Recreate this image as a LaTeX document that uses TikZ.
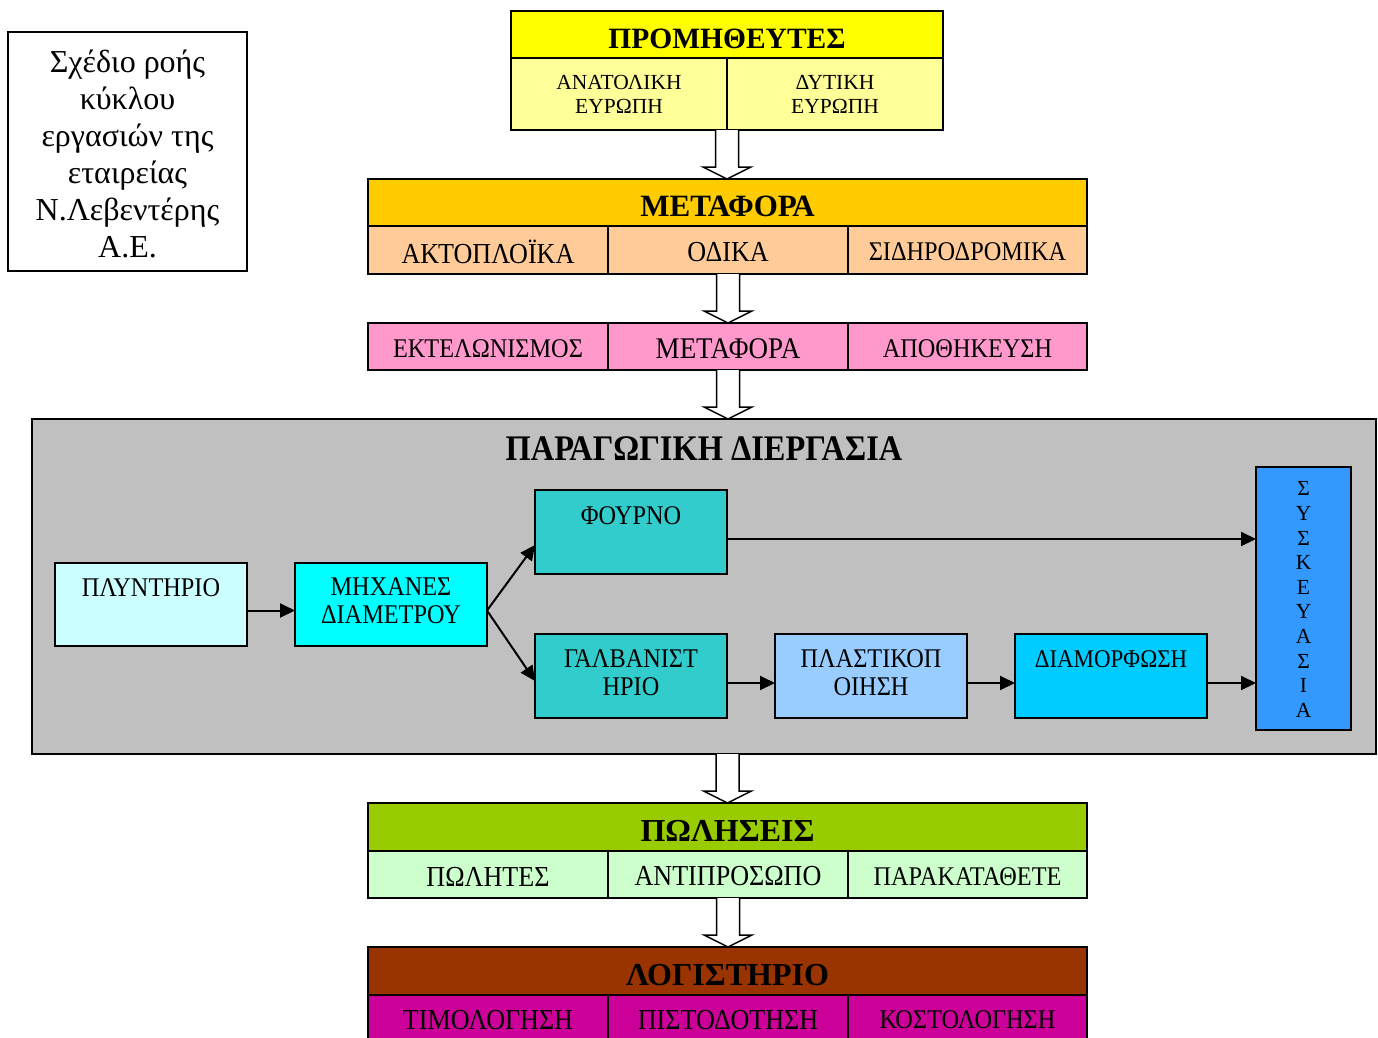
\documentclass[tikz,border=0pt]{standalone}
\usepackage{fontspec}
\setmainfont{Liberation Serif}
\newfontfamily\cnd[FakeStretch=0.9]{Liberation Serif}
\usetikzlibrary{arrows.meta,calc}

\definecolor{cYellow}{HTML}{FFFF00}
\definecolor{cLtYellow}{HTML}{FFFF99}
\definecolor{cGold}{HTML}{FFCC00}
\definecolor{cPeach}{HTML}{FFCC99}
\definecolor{cPink}{HTML}{FF99CC}
\definecolor{cGrey}{HTML}{C0C0C0}
\definecolor{cPaleCyan}{HTML}{CCFFFF}
\definecolor{cCyan}{HTML}{00FFFF}
\definecolor{cTeal}{HTML}{33CCCC}
\definecolor{cSky}{HTML}{99CCFF}
\definecolor{cAzure}{HTML}{00CCFF}
\definecolor{cBlue}{HTML}{3399FF}
\definecolor{cLime}{HTML}{99CC00}
\definecolor{cMint}{HTML}{CCFFCC}
\definecolor{cBrown}{HTML}{993300}
\definecolor{cMagenta}{HTML}{CC0099}

\tikzset{
  box/.style={draw=black, line width=1.8pt, inner sep=0pt, outer sep=0pt,
    anchor=north west, rectangle},
  lbl/.style={inner sep=0pt, align=center},
  hdrtext/.style={lbl, font=\bfseries\fontsize{32}{32}\selectfont},
  celltext/.style={lbl, font=\cnd\fontsize{29}{29}\selectfont},
  smalltext/.style={lbl, font=\fontsize{21.5}{24}\selectfont},
  proctext/.style={lbl, font=\cnd\fontsize{27}{28}\selectfont},
  flow/.style={line width=2pt, -{Triangle[length=15pt,width=14pt]}},
  bigarrow/.style={draw=black, fill=white, line width=1.5pt},
}

% hollow block arrow from the first point straight down to the level of the second
\newcommand\blockarrow[2]{%
  \path let \p1=(#1), \p2=(#2) in
    [bigarrow] (\x1-11.5pt,\y1) -- (\x1-11.5pt,\y2+12pt) -- (\x1-24pt,\y2+12pt)
    -- (\x1,\y2) -- (\x1+24pt,\y2+12pt) -- (\x1+11.5pt,\y2+12pt)
    -- (\x1+11.5pt,\y1);%
}

\begin{document}
\begin{tikzpicture}[x=1pt,y=-1pt]
\useasboundingbox (0,0) rectangle (1378,1037);

% caption box
\node[box, minimum width=239pt, minimum height=239pt] (cap) at (8,32) {};
\node[lbl, font=\fontsize{32}{37}\selectfont] (captext) at ($(cap.center)+(0,2)$)
  {Σχέδιο ροής\\κύκλου\\εργασιών της\\εταιρείας\\Ν.Λεβεντέρης\\Α.Ε.};

% suppliers
\node[box, fill=cYellow, minimum width=432pt, minimum height=47pt] (promH) at (511,11) {};
\node[hdrtext, font=\bfseries\fontsize{29.5}{29.5}\selectfont] at ($(promH.center)+(0,4)$) {ΠΡΟΜΗΘΕΥΤΕΣ};
\node[box, fill=cLtYellow, minimum width=216pt, minimum height=72pt] (promA) at (511,58) {};
\node[box, fill=cLtYellow, minimum width=216pt, minimum height=72pt] (promB) at (727,58) {};
\node[smalltext] at ($(promA.north)+(0,36)$) {ΑΝΑΤΟΛΙΚΗ\\ΕΥΡΩΠΗ};
\node[smalltext] at ($(promB.north)+(0,36)$) {ΔΥΤΙΚΗ\\ΕΥΡΩΠΗ};

% transport
\node[box, fill=cGold, minimum width=719pt, minimum height=47pt] (metH) at (368,179) {};
\node[hdrtext, font=\bfseries\fontsize{31}{31}\selectfont] at ($(metH.center)+(0,4)$) {ΜΕΤΑΦΟΡΑ};
\node[box, fill=cPeach, minimum width=240pt, minimum height=48pt] (metA) at (368,226) {};
\node[box, fill=cPeach, minimum width=240pt, minimum height=48pt] (metB) at (608,226) {};
\node[box, fill=cPeach, minimum width=239pt, minimum height=48pt] (metC) at (848,226) {};
\node[celltext] at ($(metA.center)+(0,2)$) {ΑΚΤΟΠΛΟΪΚΑ};
\node[celltext] at ($(metB.center)+(0,2)$) {ΟΔΙΚΑ};
\node[celltext, font=\cnd\fontsize{27}{27}\selectfont] at ($(metC.center)+(0,2)$) {ΣΙΔΗΡΟΔΡΟΜΙΚΑ};

% customs / transport / storage
\node[box, fill=cPink, minimum width=240pt, minimum height=47pt] (pinkA) at (368,323) {};
\node[box, fill=cPink, minimum width=240pt, minimum height=47pt] (pinkB) at (608,323) {};
\node[box, fill=cPink, minimum width=239pt, minimum height=47pt] (pinkC) at (848,323) {};
\node[celltext, font=\cnd\fontsize{27}{27}\selectfont] at ($(pinkA.center)+(0,2)$) {ΕΚΤΕΛΩΝΙΣΜΟΣ};
\node[celltext, font=\cnd\fontsize{30}{30}\selectfont] at ($(pinkB.center)+(0,2)$) {ΜΕΤΑΦΟΡΑ};
\node[celltext, font=\cnd\fontsize{27}{27}\selectfont] at ($(pinkC.center)+(0,2)$) {ΑΠΟΘΗΚΕΥΣΗ};

% production process
\node[box, fill=cGrey, minimum width=1344pt, minimum height=335pt] (proc) at (32,419) {};
\node[lbl, font=\cnd\bfseries\fontsize{36}{36}\selectfont] (proctitle) at (704,448.5) {ΠΑΡΑΓΩΓΙΚΗ ΔΙΕΡΓΑΣΙΑ};

\node[box, fill=cPaleCyan, minimum width=192pt, minimum height=83pt] (plyn) at (55,563) {};
\node[proctext] at ($(plyn.north)+(0,25)$) {ΠΛΥΝΤΗΡΙΟ};
\node[box, fill=cCyan, minimum width=192pt, minimum height=83pt] (mech) at (295,563) {};
\node[proctext] at ($(mech.north)+(0,38)$) {ΜΗΧΑΝΕΣ\\ΔΙΑΜΕΤΡΟΥ};
\node[box, fill=cTeal, minimum width=192pt, minimum height=84pt] (fourn) at (535,490) {};
\node[proctext] at ($(fourn.north)+(0,26)$) {ΦΟΥΡΝΟ};
\node[box, fill=cTeal, minimum width=192pt, minimum height=84pt] (galv) at (535,634) {};
\node[proctext] at ($(galv.north)+(0,39)$) {ΓΑΛΒΑΝΙΣΤ\\ΗΡΙΟ};
\node[box, fill=cSky, minimum width=192pt, minimum height=84pt] (plast) at (775,634) {};
\node[proctext] at ($(plast.north)+(0,39)$) {ΠΛΑΣΤΙΚΟΠ\\ΟΙΗΣΗ};
\node[box, fill=cAzure, minimum width=192pt, minimum height=84pt] (diam) at (1015,634) {};
\node[proctext, font=\cnd\fontsize{25.5}{28}\selectfont] at ($(diam.north)+(0,25)$) {ΔΙΑΜΟΡΦΩΣΗ};
\node[box, fill=cBlue, minimum width=95pt, minimum height=263pt] (pack) at (1256,467) {};
\node[lbl, font=\fontsize{21.5}{24.6}\selectfont] at ($(pack.center)+(0,1)$)
  {Σ\\Υ\\Σ\\Κ\\Ε\\Υ\\Α\\Σ\\Ι\\Α};

% connector end points on the box sides
\coordinate (plynOut) at ($(plyn.east)+(0,6)$);
\coordinate (mechIn)  at ($(mech.west)+(0,6)$);
\coordinate (mechOut) at ($(mech.east)+(0,6)$);
\coordinate (fournIn) at ($(fourn.west)+(0,13)$);
\coordinate (fournOut) at ($(fourn.east)+(0,7)$);
\coordinate (galvIn)  at ($(galv.west)+(0,5)$);
\coordinate (galvOut) at ($(galv.east)+(0,7)$);
\coordinate (plastIn) at ($(plast.west)+(0,7)$);
\coordinate (plastOut) at ($(plast.east)+(0,7)$);
\coordinate (diamIn)  at ($(diam.west)+(0,7)$);
\coordinate (diamOut) at ($(diam.east)+(0,7)$);

\draw[flow] (plynOut) -- (mechIn);
\draw[flow] (mechOut) -- (fournIn);
\draw[flow] (mechOut) -- (galvIn);
\draw[flow] (fournOut) -- (fournOut -| pack.west);
\draw[flow] (galvOut) -- (plastIn);
\draw[flow] (plastOut) -- (diamIn);
\draw[flow] (diamOut) -- (diamOut -| pack.west);

% sales
\node[box, fill=cLime, minimum width=719pt, minimum height=48pt] (salesH) at (368,803) {};
\node[hdrtext] at ($(salesH.center)+(0,4)$) {ΠΩΛΗΣΕΙΣ};
\node[box, fill=cMint, minimum width=240pt, minimum height=47pt] (salesA) at (368,851) {};
\node[box, fill=cMint, minimum width=240pt, minimum height=47pt] (salesB) at (608,851) {};
\node[box, fill=cMint, minimum width=239pt, minimum height=47pt] (salesC) at (848,851) {};
\node[celltext] at ($(salesA.center)+(0,2)$) {ΠΩΛΗΤΕΣ};
\node[celltext] at ($(salesB.center)+(0,2)$) {ΑΝΤΙΠΡΟΣΩΠΟ};
\node[celltext, font=\cnd\fontsize{27}{27}\selectfont] at ($(salesC.center)+(0,2)$) {ΠΑΡΑΚΑΤΑΘΕΤΕ};

% accounting
\node[box, fill=cBrown, minimum width=719pt, minimum height=48pt] (logH) at (368,947) {};
\node[hdrtext] at ($(logH.center)+(0,4)$) {ΛΟΓΙΣΤΗΡΙΟ};
\node[box, fill=cMagenta, minimum width=240pt, minimum height=48pt] (logA) at (368,995) {};
\node[box, fill=cMagenta, minimum width=240pt, minimum height=48pt] (logB) at (608,995) {};
\node[box, fill=cMagenta, minimum width=239pt, minimum height=48pt] (logC) at (848,995) {};
\node[celltext] at ($(logA.center)+(0,1)$) {ΤΙΜΟΛΟΓΗΣΗ};
\node[celltext] at ($(logB.center)+(0,1)$) {ΠΙΣΤΟΔΟΤΗΣΗ};
\node[celltext, font=\cnd\fontsize{27}{27}\selectfont] at ($(logC.center)+(0,1)$) {ΚΟΣΤΟΛΟΓΗΣΗ};

% block arrows between the stages
\blockarrow{promA.south east}{metH.north}
\blockarrow{metB.south}{pinkB.north}
\blockarrow{pinkB.south}{proc.north}
\blockarrow{salesH.north |- proc.south}{salesH.north}
\blockarrow{salesB.south}{logH.north}
\end{tikzpicture}
\end{document}
